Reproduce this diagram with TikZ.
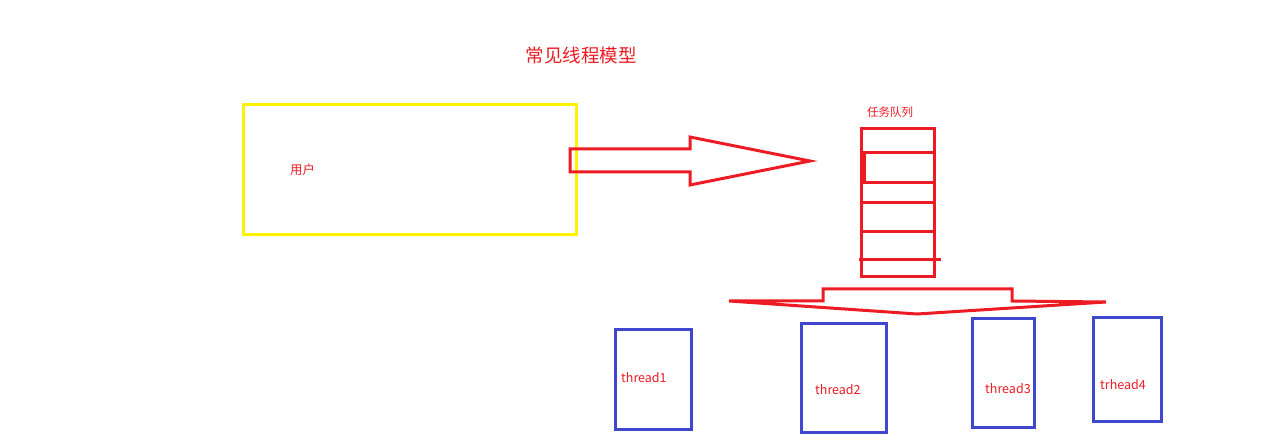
\documentclass[tikz,border=0pt]{standalone}
\usepackage{fontspec}
\newfontfamily\cjk{Noto Sans CJK SC}
\definecolor{pred}{HTML}{ED1C24}
\definecolor{pyellow}{HTML}{FFF200}
\definecolor{pblue}{HTML}{3F48CC}
\begin{document}
\begin{tikzpicture}[x=1pt,y=-1pt,
  redline/.style={draw=pred,line width=3pt},
  threadbox/.style={draw=pblue,line width=3pt,inner sep=0pt},
  lbl/.style={text=pred,font=\cjk\fontsize{12.5}{14}\selectfont,inner sep=0pt,anchor=west}]
\useasboundingbox[fill=white] (0,0) rectangle (1274,443);
% title
\node[text=pred,font=\cjk\fontsize{18.5}{20}\selectfont,inner sep=0pt] (title) at (581,55) {常见线程模型};
% user box
\node[draw=pyellow,line width=3pt,minimum width=333pt,minimum height=130pt,inner sep=0pt] (user) at (409.5,170) {};
\node[lbl] (userl) at (290,170) {用户};
% big right arrow
\draw[redline,line join=miter] (570,149) -- (690,149) -- (690,137) -- (810,161) -- (690,185) -- (690,172) -- (570,172) -- cycle;
% queue
\node[lbl,font=\cjk\fontsize{11.5}{13}\selectfont] (ql) at (867,112) {任务队列};
\node[draw=pred,line width=3pt,minimum width=73pt,minimum height=148pt,inner sep=0pt] (queue) at (897.5,203) {};
\draw[redline] (queue.west |- 0,153) -- (queue.east |- 0,153);
\draw[redline] (queue.west |- 0,183) -- (queue.east |- 0,183);
\draw[redline] (864,153) -- (864,183);
\draw[redline] (queue.west |- 0,203) -- (queue.east |- 0,203);
\draw[redline] (queue.west |- 0,232) -- (queue.east |- 0,232);
\draw[redline] (859,260) -- (941,260);
% down arrow
\draw[redline,line join=miter] (729,301) -- (823,301) -- (823,289) -- (1012,289) -- (1012,301) -- (1106,302) -- (917,314) -- cycle;
% threads
\node[threadbox,minimum width=76pt,minimum height=99pt] (t1) at (653,379.5) {};
\node[lbl] (t1l) at (621,378) {thread1};
\node[threadbox,minimum width=85pt,minimum height=108pt] (t2) at (843.5,378) {};
\node[lbl] (t2l) at (815,390) {thread2};
\node[threadbox,minimum width=62pt,minimum height=108pt] (t3) at (1003,373) {};
\node[lbl] (t3l) at (985,389) {thread3};
\node[threadbox,minimum width=68pt,minimum height=103pt] (t4) at (1127,369.5) {};
\node[lbl] (t4l) at (1100,385) {trhead4};
\end{tikzpicture}
\end{document}
